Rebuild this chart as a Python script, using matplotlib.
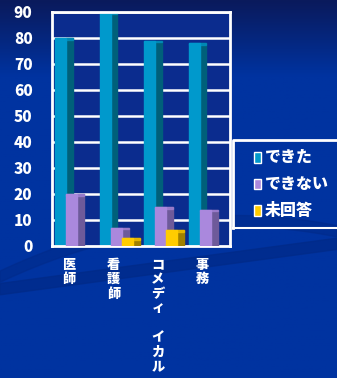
import numpy as np
import matplotlib
matplotlib.use("Agg")
import matplotlib.pyplot as plt
from matplotlib.colors import LinearSegmentedColormap
from matplotlib.patches import Rectangle

plt.rcParams['font.family'] = ['Noto Sans CJK JP', 'DejaVu Sans']

categories = ['医師', '看護師', 'コメデ\u30a3\u3000イカル', '事務']
series_names = ['できた', 'できない', '未回答']
dekita = [80, 90, 79, 78]
dekinai = [20, 7, 15, 14]
mikaitou = [0, 3, 6, 0]
yticks = list(range(0, 100, 10))

face_colors = ['#0099cc', '#aa88dd', '#ffcc00']
side_colors = ['#00607a', '#6e5a9a', '#a08000']

fig = plt.figure(figsize=(3.37, 3.78), dpi=100)

# background gradient
bg = fig.add_axes([0, 0, 1, 1])
grad = np.linspace(0, 1, 200).reshape(-1, 1)
grad = np.clip(grad / 0.2, 0, 1)
cmap = LinearSegmentedColormap.from_list('bg', ['#0a1a5c', '#0033a0'])
bg.imshow(grad, aspect='auto', cmap=cmap, extent=[0, 1, 0, 1], origin='upper')
# soft darker swooshes
xs = np.linspace(0, 1, 100)
bg.fill_between(xs, 0.22 + 0.12 * xs, 0.25 + 0.12 * xs, color='#002a88', alpha=0.7)
bg.fill_between(xs, 0.40 - 0.3 * (xs - 0.7) ** 2, 0.43 - 0.3 * (xs - 0.7) ** 2,
                color='#002a88', alpha=0.5)
bg.set_xlim(0, 1)
bg.set_ylim(0, 1)
bg.axis('off')

ax = fig.add_axes([52 / 337, 1 - 246 / 378, 178 / 337, 234 / 378])
ax.set_facecolor('#0b2c8e')
ax.set_xlim(0, 4)
ax.set_ylim(0, 90)

for y in yticks[1:]:
    ax.axhline(y, color='white', lw=1.8, zorder=1)

face_w = 0.25
side_w = 0.15
for k, vals in enumerate([dekita, dekinai, mikaitou]):
    for i, v in enumerate(vals):
        if v <= 0:
            continue
        x0 = i + 0.07 + k * face_w
        ax.add_patch(Rectangle((x0 + face_w, 0), side_w, v, color=side_colors[k], zorder=2 + k))
        ax.add_patch(Rectangle((x0, 0), face_w, v, color=face_colors[k], zorder=2 + k))
        ax.add_patch(Rectangle((x0, v - 0.6), face_w + side_w, 0.6,
                               color=face_colors[k], alpha=0.6, zorder=2 + k))

for s in ax.spines.values():
    s.set_color('white')
    s.set_linewidth(2)

ax.set_yticks(yticks)
ax.set_yticklabels([str(t) for t in yticks], color='white', fontsize=11,
                   fontweight='heavy')
ax.tick_params(axis='y', length=0, pad=14)
ax.set_xticks([])

for i, name in enumerate(categories):
    ax.text(i + 0.38, -4.5, '\n'.join(name), ha='center', va='top', color='white',
            fontsize=9.5, fontweight='heavy', linespacing=1.05)

# legend box
leg_ax = fig.add_axes([233 / 337, 1 - 228 / 378, 104 / 337, 88 / 378])
leg_ax.set_xlim(0, 1)
leg_ax.set_ylim(0, 1)
leg_ax.axis('off')
leg_ax.plot([0, 0, 1], [0, 1, 1], color='white', lw=2, clip_on=False)
leg_ax.plot([0, 1], [0, 0], color='white', lw=1.5, clip_on=False)
for j, name in enumerate(series_names):
    yy = 0.8 - j * 0.3
    leg_ax.add_patch(Rectangle((0.2, yy - 0.06), 0.07, 0.12, facecolor=face_colors[j],
                               edgecolor='white', lw=1))
    leg_ax.text(0.31, yy, name, color='white', fontsize=11.5, fontweight='heavy',
                va='center', ha='left')

fig.savefig('out.png', dpi=100)
